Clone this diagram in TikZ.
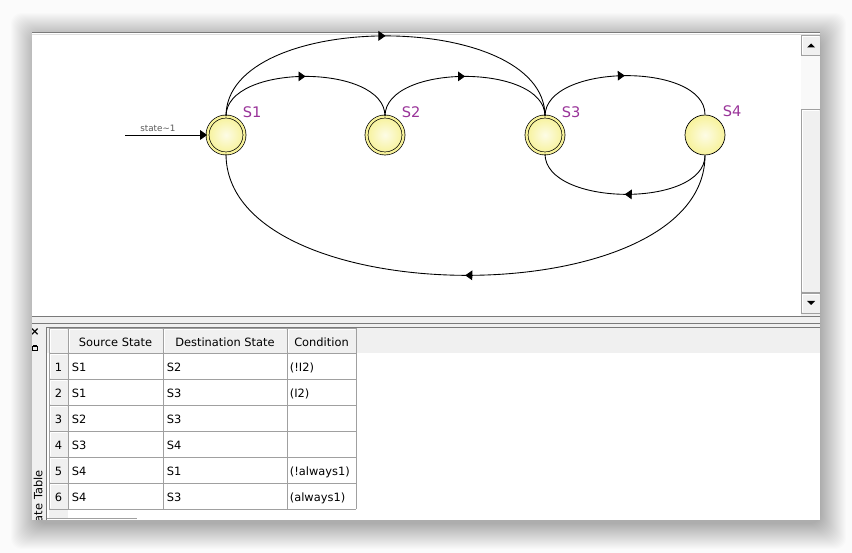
\documentclass[tikz,border=0pt]{standalone}
\usepackage{fontspec}
\setmainfont{DejaVu Sans}
\usetikzlibrary{arrows.meta, decorations.markings}
\definecolor{stfill}{HTML}{F7F29A}
\definecolor{lblcol}{HTML}{993399}
\definecolor{panel}{HTML}{F0F0F0}
\definecolor{gridc}{HTML}{A0A0A0}
\definecolor{edgec}{HTML}{7A7A7A}
\definecolor{bgc}{HTML}{FBFBFB}

\begin{document}
\begin{tikzpicture}[x=0.02cm, y=-0.02cm,
    st/.style={circle, draw, line width=0.4pt, inner color=white!75!stfill, outer color=stfill,
               minimum size=0.8cm, inner sep=0pt, label={[lbl]45:#1}},
    acc/.style={st=#1, double=stfill, double distance=1.3pt, minimum size=0.74cm},
    lbl/.style={text=lblcol, font=\fontsize{8.3pt}{9pt}\selectfont, inner sep=1.8pt},
    tr/.style={line width=0.5pt, postaction={decorate},
               decoration={markings, mark=at position 0.5 with {\arrow{Triangle[length=4pt, width=5.5pt]}}}},
    ar/.style={line width=0.5pt, -{Triangle[length=4pt, width=5.5pt]}},
    cell/.style={font=\fontsize{6.5pt}{7.5pt}\selectfont, anchor=west, inner sep=0pt, text height=1.5ex, text depth=0.4ex},
    num/.style={cell, anchor=center},
    btn/.style={fill=panel, draw=gridc, line width=0.4pt},
  ]
  \useasboundingbox (0,0) rectangle (852,553);
  \fill[bgc] (0,0) rectangle (852,553);

  % window shadow
  \foreach \i in {1,...,26}
    \fill[black, opacity=0.011, rounded corners=6pt] (32-\i+5,32-\i+7) rectangle (820+\i,520+\i+3);

  \begin{scope}
    \clip (32,32) rectangle (820,520);
    \fill[white] (32,32) rectangle (820,520);
    \draw[edgec] (32,32.5) -- (820,32.5);
    \draw[gray!25] (32,34) -- (820,34);

    % scroll bar
    \fill[panel] (801,35) rectangle (820,316);
    \fill[white!60!panel] (801,55) rectangle (820,109);
    \draw[btn] (801,35) rectangle (820,55);
    \draw[btn] (801,109) rectangle (820,292);
    \draw[btn] (801,293) rectangle (820,313);
    \draw[white] (802,54) -- (802,36) -- (819,36);
    \draw[white] (802,291) -- (802,110) -- (819,110);
    \draw[white] (802,312) -- (802,294) -- (819,294);
    \fill (807,47.5) -- (815,47.5) -- (811,43.5) -- cycle;
    \fill (807,301) -- (815,301) -- (811,305) -- cycle;

    % splitter
    \fill[panel] (32,316) rectangle (820,328);
    \draw[edgec] (32,316) -- (820,316);
    \draw[edgec] (32,323) -- (820,323);
    \draw[edgec] (32,327) -- (820,327);

    % left strip
    \fill[panel] (32,327) rectangle (47,520);
    \draw[edgec] (46.5,327) -- (46.5,520);
    \node[font=\fontsize{6.5pt}{6.5pt}\selectfont\bfseries, inner sep=0pt] (close) at (35,332) {×};
    \draw[line width=0.5pt] (32.8,346) rectangle (37,350.5);
    \fill (32.8,345.3) rectangle (37,346.8);
    \node[cell, rotate=90, anchor=east] (tab) at (37,470) {State Table};

    % table
    \fill[panel] (47,328) rectangle (820,353);
    \fill[panel] (49,509) rectangle (68,518);
    \draw[gridc] (47,518.5) -- (137,518.5);
    \foreach \xa/\xb in {49/68, 68/163, 163/287, 287/356} {
      \draw[btn] (\xa,328) rectangle (\xb,353);
      \draw[white] (\xa+1,352) -- (\xa+1,329) -- (\xb-1,329);
    }
    \node[num] (hsrc) at (115.5,341) {Source State};
    \node[num] (hdst) at (225,341) {Destination State};
    \node[num] (hcnd) at (321.5,341) {Condition};

    \foreach \n/\src/\dst/\cnd in {1/S1/S2/{(!I2)}, 2/S1/S3/{(I2)}, 3/S2/S3/{}, 4/S3/S4/{},
                                   5/S4/S1/{(!always1)}, 6/S4/S3/{(always1)}} {
      \pgfmathsetmacro\yt{327+26*\n}
      \draw[btn] (49,\yt) rectangle (68,\yt+26);
      \draw[white] (50,\yt+25) -- (50,\yt+1) -- (67,\yt+1);
      \draw[gridc] (68,\yt+26) -- (356,\yt+26);
      \node[num] (n\n) at (58.5,\yt+13) {\n};
      \node[cell] (src\n) at (71.5,\yt+13) {\src};
      \node[cell] (dst\n) at (166.5,\yt+13) {\dst};
      \node[cell] (cnd\n) at (289.5,\yt+13) {\cnd};
    }
    \foreach \x in {163,287,356}
      \draw[gridc] (\x,353) -- (\x,509);
  \end{scope}

  % states
  \node[acc=S1] (s1) at (226,135) {};
  \node[acc=S2] (s2) at (385,135) {};
  \node[acc=S3] (s3) at (545,135) {};
  \node[st=S4]  (s4) at (705,135) {};

  \coordinate (init) at (125,135);
  \draw[ar] (init) -- node[pos=0.4, above=0pt, inner sep=1.5pt, text=black!65, font=\fontsize{5pt}{5.5pt}\selectfont] {state\textasciitilde1} (s1);

  % transitions
  \draw[tr] (s1.north) .. controls +(0,-53) and +(0,-53) .. (s2.north);
  \draw[tr] (s2.north) .. controls +(0,-53) and +(0,-53) .. (s3.north);
  \draw[tr] (s1.north) .. controls +(0,-107) and +(0,-107) .. (s3.north);
  \draw[tr] (s3.north) .. controls +(0,-53) and +(0,-53) .. (s4.north);
  \draw[tr] (s4.south) .. controls +(0,53) and +(0,53) .. (s3.south);
  \draw[tr] (s4.south) .. controls +(0,161) and +(0,161) .. (s1.south);
\end{tikzpicture}
\end{document}
